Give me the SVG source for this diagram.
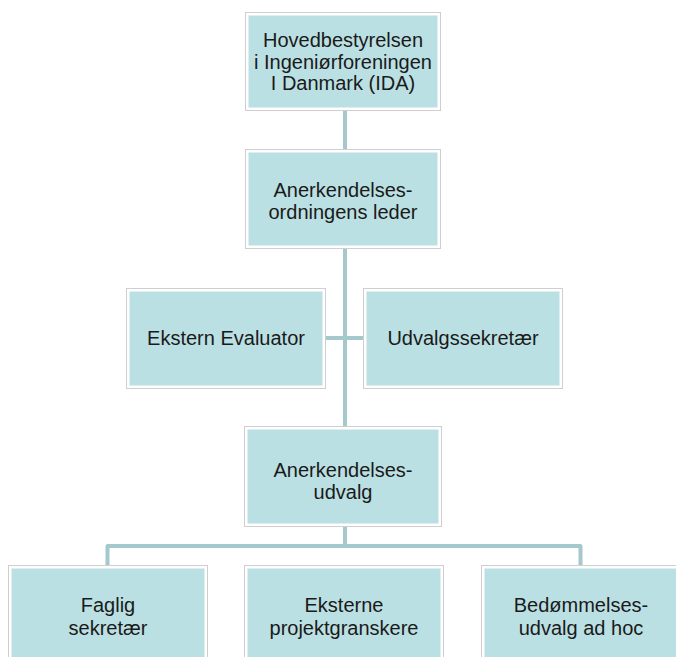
<svg xmlns="http://www.w3.org/2000/svg" width="676" height="657" viewBox="0 0 676 657">
<style>
.frame{fill:#ffffff;stroke:#cfcfcf;stroke-width:1}
.box{fill:#bbe0e3}
.conn{fill:none;stroke:#a5c8cc;stroke-width:4;stroke-linejoin:round}
text{font-family:"Liberation Sans",Arial,sans-serif;font-size:20px;fill:#1a1a1a;text-anchor:middle}
</style>
<rect width="676" height="657" fill="#ffffff"/>
<g id="connectors">
<path class="conn" d="M345 110V427"/>
<path class="conn" d="M325 338H363"/>
<path class="conn" d="M345 527V546"/>
<path class="conn" d="M107.5 566V546H580.5V566"/>
</g>
<g id="n1">
<rect class="frame" x="245.5" y="12.5" width="195" height="98"/>
<rect class="box" x="248.5" y="15.5" width="189" height="92"/>
<text x="343" y="47">Hovedbestyrelsen</text>
<text x="343" y="68.5">i Ingeniørforeningen</text>
<text x="343" y="90">I Danmark (IDA)</text>
</g>
<g id="n2">
<rect class="frame" x="245.5" y="149.5" width="195" height="99"/>
<rect class="box" x="248.5" y="152.5" width="189" height="93"/>
<text x="343" y="197">Anerkendelses-</text>
<text x="343" y="218.5">ordningens leder</text>
</g>
<g id="n3">
<rect class="frame" x="126.5" y="288.5" width="199" height="100"/>
<rect class="box" x="129.5" y="291.5" width="193" height="94"/>
<text x="226" y="345">Ekstern Evaluator</text>
</g>
<g id="n4">
<rect class="frame" x="363.5" y="288.5" width="199" height="100"/>
<rect class="box" x="366.5" y="291.5" width="193" height="94"/>
<text x="463" y="345">Udvalgssekretær</text>
</g>
<g id="n5">
<rect class="frame" x="244.5" y="426.5" width="197" height="100"/>
<rect class="box" x="247.5" y="429.5" width="191" height="94"/>
<text x="343" y="477">Anerkendelses-</text>
<text x="343" y="498.5">udvalg</text>
</g>
<g id="n6">
<rect class="frame" x="8.5" y="565.5" width="199" height="100"/>
<rect class="box" x="11.5" y="568.5" width="193" height="94"/>
<text x="108" y="612">Faglig</text>
<text x="108" y="635">sekretær</text>
</g>
<g id="n7">
<rect class="frame" x="244.5" y="565.5" width="199" height="100"/>
<rect class="box" x="247.5" y="568.5" width="193" height="94"/>
<text x="344" y="612">Eksterne</text>
<text x="344" y="635">projektgranskere</text>
</g>
<g id="n8">
<rect class="frame" x="481.5" y="565.5" width="199" height="100"/>
<rect class="box" x="484.5" y="568.5" width="193" height="94"/>
<text x="581" y="612">Bedømmelses-</text>
<text x="581" y="635">udvalg ad hoc</text>
</g>
</svg>
